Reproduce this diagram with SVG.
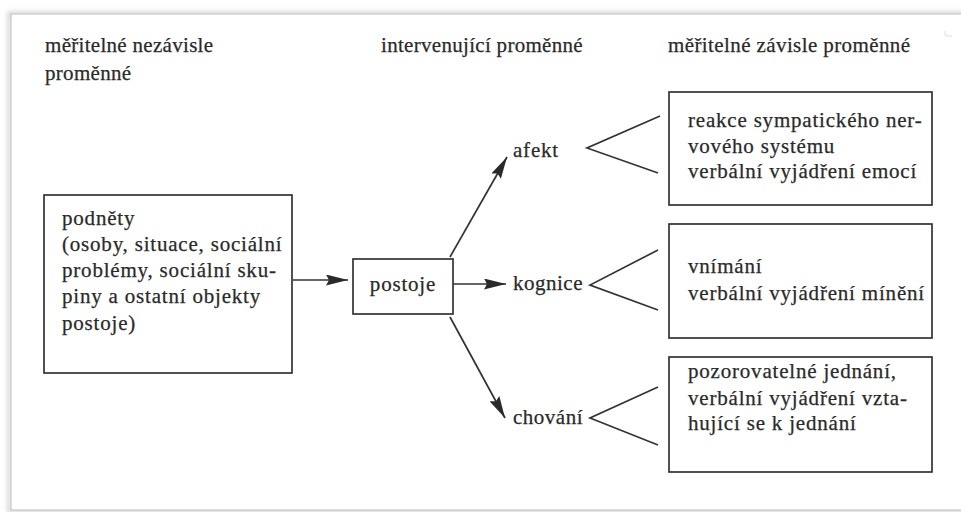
<svg xmlns="http://www.w3.org/2000/svg" width="961" height="512" viewBox="0 0 961 512">
<defs>
<style>
.box{fill:none;stroke:#333;stroke-width:1.7}
.ln{fill:none;stroke:#333;stroke-width:1.7}
</style>
<marker id="ah" viewBox="0 0 22 11" refX="22" refY="5.5" markerWidth="22" markerHeight="11" markerUnits="userSpaceOnUse" orient="auto">
<path d="M0,0 L22,5.5 L0,11 L3,5.5 Z" fill="#2a2a2a"/>
</marker>
<filter id="sh" x="-5%" y="-5%" width="110%" height="110%">
<feGaussianBlur stdDeviation="2"/>
</filter>
</defs>
<rect width="961" height="512" fill="#fff"/>
<rect x="9" y="13" width="960" height="498" fill="none" stroke="#ccc" stroke-width="3" filter="url(#sh)"/>
<rect x="11" y="14" width="960" height="496" fill="#fff" stroke="#bdbdbd" stroke-width="1"/>
<path d="M945,31 L945,35 Q945,36 948,36 L952,36" fill="none" stroke="#ddd" stroke-width="1"/>

<g font-family="'Liberation Serif', 'Times New Roman', serif" font-size="21" letter-spacing="0.8" fill="#2a2a2a" stroke="#2a2a2a" stroke-width="0.25">
<g id="headers">
<text x="45" y="52" letter-spacing="0.3">měřitelné nezávisle</text>
<text x="45" y="80" letter-spacing="0.3">proměnné</text>
<text x="381" y="52" letter-spacing="0.3">intervenující proměnné</text>
<text x="668" y="52" letter-spacing="0.4">měřitelné závisle proměnné</text>
</g>

<g id="podnety">
<rect class="box" x="44" y="195" width="248" height="178"/>
<text x="62" y="225">podněty</text>
<text x="62" y="251">(osoby, situace, sociální</text>
<text x="62" y="277">problémy, sociální sku-</text>
<text x="62" y="303">piny a ostatní objekty</text>
<text x="62" y="330">postoje)</text>
</g>

<g id="postoje">
<rect class="box" x="353" y="259" width="100" height="55"/>
<text x="403" y="291" text-anchor="middle">postoje</text>
</g>

<g id="afekt"><text x="513" y="157">afekt</text></g>
<g id="kognice"><text x="513" y="290" letter-spacing="0.5">kognice</text></g>
<g id="chovani"><text x="513" y="424" letter-spacing="0.5">chování</text></g>

<g id="box-afekt">
<rect class="box" x="669" y="92" width="263" height="113"/>
<text x="688" y="127">reakce sympatického ner-</text>
<text x="688" y="153">vového systému</text>
<text x="688" y="178">verbální vyjádření emocí</text>
</g>
<g id="box-kognice">
<rect class="box" x="669" y="224" width="263" height="114"/>
<text x="688" y="273">vnímání</text>
<text x="688" y="300">verbální vyjádření mínění</text>
</g>
<g id="box-chovani">
<rect class="box" x="669" y="357" width="263" height="115"/>
<text x="688" y="378">pozorovatelné jednání,</text>
<text x="688" y="405">verbální vyjádření vzta-</text>
<text x="688" y="430">hující se k jednání</text>
</g>
</g>

<g id="connectors">
<line class="ln" x1="293" y1="280" x2="348" y2="280" marker-end="url(#ah)"/>
<line class="ln" x1="453" y1="284" x2="506" y2="284" marker-end="url(#ah)"/>
<line class="ln" x1="450" y1="257" x2="507" y2="157" marker-end="url(#ah)"/>
<line class="ln" x1="450" y1="317" x2="505" y2="418" marker-end="url(#ah)"/>
<polyline class="ln" points="660,116 587,148 658,173"/>
<polyline class="ln" points="658,250 590,285 658,310"/>
<polyline class="ln" points="658,387 590,418 658,445"/>
</g>
</svg>
